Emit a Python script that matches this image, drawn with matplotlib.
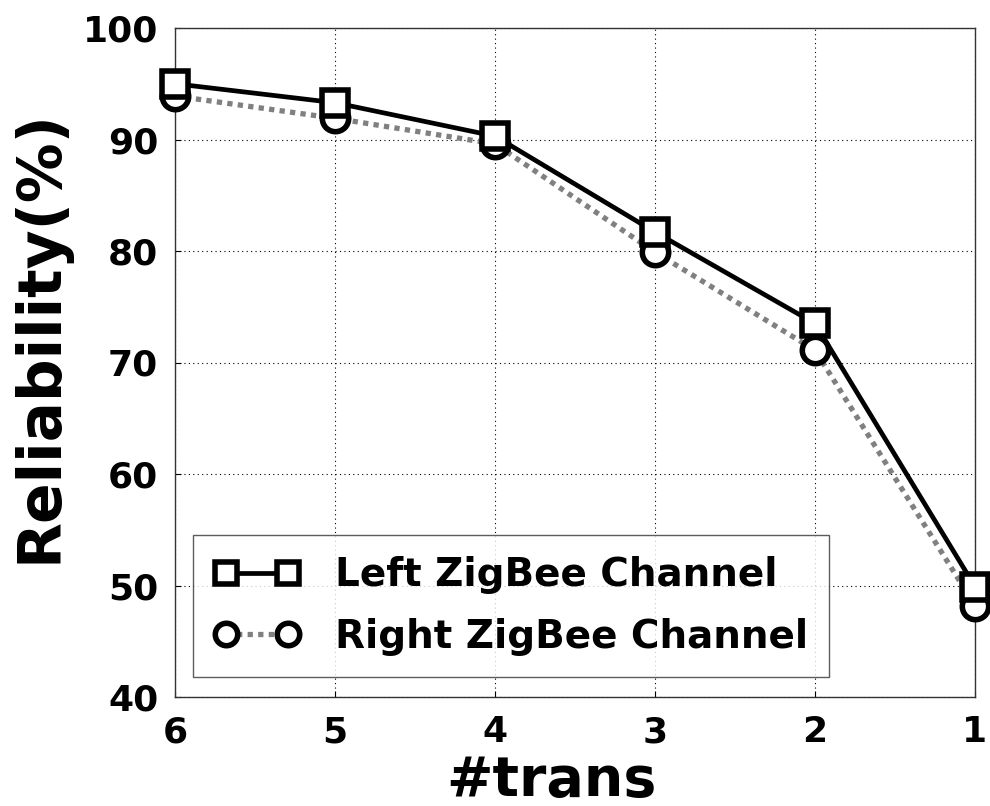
import matplotlib
matplotlib.use("Agg")
import matplotlib.pyplot as plt

trans = [6, 5, 4, 3, 2, 1]
left_channel = [95.0, 93.3, 90.3, 81.7, 73.5, 49.9]
right_channel = [93.9, 91.9, 89.6, 79.9, 71.1, 48.2]
y_ticks = [40, 50, 60, 70, 80, 90, 100]

plt.rcParams['font.family'] = ['DejaVu Sans']
plt.rcParams['font.weight'] = 'bold'

fig = plt.figure(figsize=(9.9, 8.06), dpi=100)
ax = fig.add_axes([175 / 990, 1 - 697 / 806, 800 / 990, 669 / 806])

ax.plot(trans, left_channel, color='black', linewidth=3.4, linestyle='-',
        marker='s', markersize=19, markeredgewidth=4, markerfacecolor='white',
        markeredgecolor='black', clip_on=False, zorder=4,
        label='Left ZigBee Channel')
ax.plot(trans, right_channel, color='#808080', linewidth=3.8, linestyle=(0, (1, 1)),
        marker='o', markersize=19, markeredgewidth=4, markerfacecolor='white',
        markeredgecolor='black', clip_on=False, zorder=3,
        label='Right ZigBee Channel')

ax.set_xlim(6, 1)
ax.set_ylim(40, 100)
ax.set_xticks(trans)
ax.set_yticks(y_ticks)
ax.tick_params(axis='both', direction='in', length=4, labelsize=26)
ax.tick_params(axis='y', pad=12)
ax.tick_params(axis='x', pad=13)
for lbl in ax.get_xticklabels() + ax.get_yticklabels():
    lbl.set_fontweight('bold')

ax.grid(True, color='black', linestyle=(0, (1, 3)), linewidth=0.8)
for sp in ax.spines.values():
    sp.set_linewidth(1.0)
    sp.set_color('#333333')

ax.set_ylabel('Reliability(%)', fontsize=43, fontweight='bold')
ax.yaxis.set_label_coords(-0.132, 0.54)
ax.set_xlabel('#trans', fontsize=40, fontweight='bold')
ax.xaxis.set_label_coords(0.47, -0.085)

leg = ax.legend(loc='lower left', bbox_to_anchor=(0.0225, 0.03), borderaxespad=0,
                frameon=True, fancybox=False, edgecolor='#333333',
                numpoints=2, markerscale=0.85,
                handlelength=2.2, handletextpad=0.9, borderpad=0.55,
                labelspacing=0.6, prop={'weight': 'bold', 'size': 28})
leg.get_frame().set_linewidth(1.0)

fig.savefig('out.png', dpi=100)
